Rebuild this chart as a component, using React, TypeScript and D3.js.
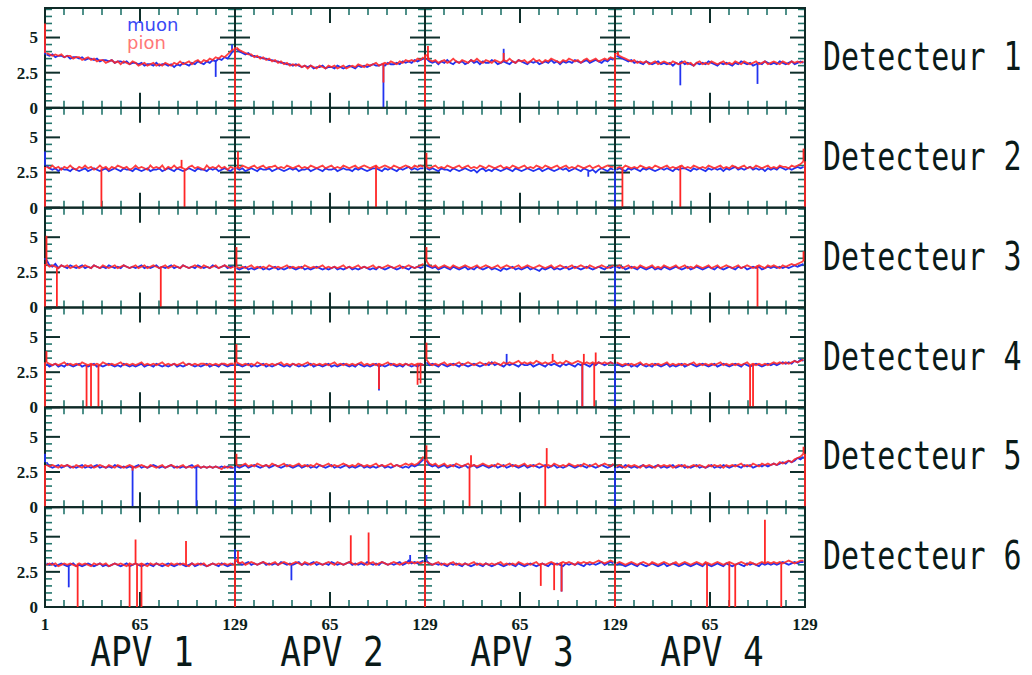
import React from 'react';
import * as d3 from 'd3';

// ---------- labels ----------
const apvLabels = ['APV 1', 'APV 2', 'APV 3', 'APV 4'];
const detectorLabels = ['Detecteur 1', 'Detecteur 2', 'Detecteur 3', 'Detecteur 4', 'Detecteur 5', 'Detecteur 6'];
const yTickValues = [5, 2.5, 0];
const yTickLabels = ['5', '2.5', '0'];
const xTickValues = [65, 129];
const xTickLabels = ['65', '129'];
const legendLabels = ['muon', 'pion'];

// ---------- data: pedestal noise (tenths of ADC) sampled every 2 channels, per APV ----------
const muonD1 = [
  [38,37,38,36,37,37,36,37,35,36,36,35,36,34,35,35,34,35,33,34,34,33,34,32,33,33,32,33,31,32,32,31,
   32,30,31,31,30,32,30,31,31,30,31,29,31,30,32,31,30,32,31,33,32,31,33,32,34,33,35,34,36,35,38,41],
  [42,40,39,38,39,37,37,36,36,35,35,34,34,33,33,32,32,31,31,30,31,30,29,30,29,30,28,29,29,30,28,29,
   29,28,30,29,28,29,30,29,28,30,29,30,29,30,31,30,30,31,30,32,31,31,32,31,33,32,33,32,34,33,34,35],
  [35,33,32,33,31,33,32,34,32,31,33,32,33,31,32,34,32,33,31,33,32,32,34,33,31,32,33,32,31,33,32,34,
   33,32,31,33,32,33,31,32,33,32,34,32,33,31,33,32,33,32,34,33,32,33,34,32,33,34,33,32,34,33,35,34],
  [37,36,35,34,33,34,32,33,32,31,33,32,31,32,33,31,32,31,32,30,32,31,33,31,32,31,30,32,31,32,31,33,
   32,31,30,32,31,32,31,30,32,31,33,32,31,32,30,31,32,31,33,32,31,32,31,33,32,31,32,33,31,32,33,32],
];
const pionD1 = [
  [39,38,37,38,37,38,36,37,37,35,36,36,34,35,36,34,35,33,34,34,32,33,34,32,33,31,33,32,31,33,32,30,
   31,32,30,31,32,30,31,30,32,31,30,32,31,33,31,32,33,31,33,34,32,34,33,35,34,36,35,37,36,38,40,42],
  [43,41,40,39,38,38,36,37,35,36,34,35,33,34,32,33,31,32,30,31,30,31,29,30,28,30,29,28,30,29,28,30,
   29,30,28,29,30,28,29,30,29,31,30,29,31,30,31,32,30,31,32,31,33,32,31,33,32,34,33,34,33,35,34,36],
  [38,34,33,34,32,33,34,32,33,35,33,32,34,33,32,34,33,35,33,32,34,33,32,34,33,32,34,33,35,33,32,34,
   33,34,32,33,35,33,34,32,34,33,35,34,33,32,34,33,35,34,33,34,32,34,35,33,34,35,33,34,35,34,36,35],
  [39,37,36,35,34,33,34,32,33,32,33,31,32,33,31,32,33,32,31,33,32,31,32,33,31,32,30,32,33,31,32,31,
   33,32,31,32,33,31,32,31,33,32,31,33,32,31,32,33,31,32,33,31,32,33,32,31,33,32,31,33,32,33,32,33],
];
const muonD2 = [
  [30,28,27,28,26,28,27,27,26,28,27,26,27,28,26,27,28,27,26,27,28,26,27,28,27,26,28,27,27,26,28,27,
   26,27,28,26,27,27,28,26,27,28,27,26,28,27,26,27,28,27,26,28,27,27,26,28,27,28,26,27,28,27,26,28],
  [28,27,28,26,27,28,27,26,28,27,27,28,26,27,28,27,26,27,28,27,28,26,27,27,28,26,27,28,27,26,28,27,
   27,28,26,27,28,27,27,26,28,27,28,27,26,27,28,28,27,26,28,27,28,27,26,28,27,28,29,27,28,27,28,28],
  [28,27,28,27,26,28,27,27,26,28,27,26,27,28,27,26,27,25,27,28,26,27,26,28,27,26,27,28,27,26,28,27,
   26,27,28,27,26,27,28,26,27,28,27,26,27,28,27,28,26,27,28,27,26,28,27,26,27,25,27,28,27,26,28,27],
  [27,28,27,26,28,27,28,27,26,28,27,28,27,26,27,28,27,28,27,26,28,27,28,28,27,26,28,27,28,27,26,28,
   27,28,27,28,26,28,27,28,29,27,28,27,28,29,27,28,27,28,26,28,27,28,27,29,28,27,28,27,28,29,28,29],
];
const pionD2 = [
  [29,28,30,28,29,27,29,28,30,28,27,29,28,30,28,29,27,28,30,28,29,27,29,28,30,29,28,29,27,28,30,28,
   29,28,27,30,28,29,28,30,27,29,28,30,28,29,28,27,29,30,28,29,28,27,30,28,29,28,30,28,29,27,29,28],
  [29,28,30,29,28,29,30,28,29,30,28,29,29,30,28,29,28,30,29,28,29,30,28,29,28,30,29,28,29,30,28,29,
   30,28,29,28,30,29,28,29,30,28,29,30,29,28,29,30,28,29,30,29,28,30,29,28,29,30,29,28,30,29,30,29],
  [29,28,29,30,28,29,28,30,29,28,29,30,28,29,30,28,29,28,30,29,28,30,29,28,29,30,28,29,28,30,29,28,
   29,30,28,29,28,30,29,28,30,29,28,29,30,28,29,30,28,29,28,30,29,28,29,30,28,29,30,28,29,30,29,29],
  [28,29,28,30,29,28,29,28,30,29,28,29,28,30,29,28,29,30,28,29,28,29,30,28,29,28,30,29,28,29,28,30,
   29,28,29,30,28,29,28,30,29,28,29,30,28,29,28,30,29,28,29,30,28,29,28,30,29,29,28,30,29,30,31,33],
];
const muonD3 = [
  [34,30,29,31,28,30,29,28,30,29,28,29,30,28,29,28,30,29,28,29,28,30,29,28,29,28,30,29,28,29,28,29,
   30,28,29,28,29,30,28,29,28,29,30,28,29,28,30,29,28,29,28,30,29,28,29,28,30,29,28,29,30,28,29,29],
  [28,27,28,29,27,28,27,28,29,27,28,27,28,29,27,28,27,28,29,28,27,28,29,27,28,27,28,29,28,27,28,27,
   28,29,27,28,27,28,29,27,28,27,28,29,28,27,28,27,29,28,27,28,29,28,27,28,29,28,27,29,28,29,28,29],
  [30,29,28,29,27,28,29,28,27,29,28,27,28,29,27,28,27,29,28,27,28,29,27,28,27,26,28,27,28,29,27,28,
   27,28,29,27,28,27,26,28,27,28,29,27,28,27,28,29,27,28,29,28,27,28,29,28,27,28,29,28,27,29,28,29],
  [29,28,29,27,28,29,28,27,29,28,27,28,29,27,28,27,29,28,27,28,29,28,27,28,29,27,28,29,28,27,28,29,
   28,27,29,28,27,28,29,28,27,29,28,29,27,28,29,28,29,27,28,29,28,29,28,29,28,29,28,29,30,29,30,31],
];
const pionD3 = [
  [31,29,30,29,28,30,29,30,28,29,30,28,29,30,29,28,30,29,28,30,29,28,29,30,28,29,30,29,28,29,30,28,
   29,30,28,29,30,29,28,29,30,28,29,30,29,28,30,29,28,29,30,29,28,30,29,28,29,30,28,29,30,29,28,29],
  [29,28,29,28,29,30,28,29,28,29,28,30,29,28,29,28,29,30,28,29,28,29,28,30,29,28,29,28,29,30,28,29,
   28,29,28,29,30,28,29,28,29,30,28,29,28,29,30,28,29,28,29,30,29,28,29,30,28,29,30,29,28,29,30,31],
  [33,30,29,30,28,29,30,29,28,30,29,28,29,30,29,28,29,30,28,29,30,29,28,29,30,28,29,30,29,28,29,30,
   28,29,30,29,28,29,30,29,28,29,30,28,29,30,29,28,29,30,28,29,30,29,28,30,29,28,29,30,29,28,29,30],
  [29,30,28,29,30,28,29,28,30,29,28,29,30,28,29,28,30,29,28,29,30,28,29,30,28,29,28,30,29,28,29,30,
   28,29,30,28,29,30,29,28,29,30,28,29,30,29,28,29,30,29,28,30,29,30,29,28,30,29,30,31,30,31,32,33],
];
const muonD4 = [
  [31,29,30,31,29,30,29,31,30,29,30,31,29,30,29,30,31,29,30,29,30,31,30,29,30,29,31,30,29,30,29,30,
   31,29,30,30,29,31,30,29,30,29,30,31,29,30,29,30,31,30,29,30,29,30,31,29,30,30,29,31,30,29,30,30],
  [31,30,29,30,31,29,30,29,30,31,29,30,29,30,31,30,29,30,29,31,30,29,30,29,30,31,29,30,30,29,30,31,
   29,30,29,30,31,30,29,30,29,31,30,29,30,29,30,31,29,30,29,30,31,30,29,30,29,31,30,29,30,29,31,30],
  [32,30,31,30,29,31,30,29,30,31,30,29,31,30,29,30,31,30,29,30,31,30,32,30,31,30,29,31,30,31,30,29,
   31,30,30,31,29,30,31,30,29,31,30,31,30,29,31,30,31,30,29,31,30,31,30,29,31,30,32,31,30,31,32,31],
  [31,30,29,30,31,29,30,29,31,30,29,30,29,31,30,29,30,31,29,30,29,30,31,29,30,31,30,29,30,31,30,29,
   30,31,29,30,31,30,29,30,31,30,29,31,30,29,30,31,30,29,30,31,30,31,30,31,32,31,32,31,33,32,34,33],
];
const pionD4 = [
  [32,31,30,31,30,31,32,30,31,30,31,30,32,31,30,31,30,31,30,32,31,30,31,30,31,32,30,31,30,31,30,31,
   32,30,31,30,31,30,31,32,30,31,30,31,30,31,32,30,31,30,31,30,31,31,30,31,30,31,30,31,31,30,31,31],
  [32,31,30,31,30,31,30,32,31,30,31,30,31,30,31,32,30,31,30,31,30,31,30,31,32,30,31,30,31,30,31,30,
   31,32,30,31,30,31,30,31,30,31,32,30,31,30,31,30,31,30,31,32,30,31,30,31,30,31,30,31,30,31,31,30],
  [34,31,30,31,30,31,32,30,31,30,31,32,30,31,32,31,30,31,32,31,30,32,31,32,31,30,32,31,32,31,32,33,
   31,32,31,32,31,33,32,31,32,31,32,33,31,32,31,33,32,31,32,33,32,31,32,31,32,31,32,31,32,31,32,31],
  [32,31,30,31,30,31,30,31,32,30,31,30,31,30,31,30,31,32,30,31,30,31,30,31,30,31,32,30,31,30,31,30,
   31,30,31,32,30,31,30,31,30,31,30,31,32,30,31,30,31,30,31,30,31,32,31,32,31,32,31,32,33,32,33,34],
];
const muonD5 = [
  [32,29,28,29,30,28,29,30,28,29,28,29,30,28,29,28,29,30,28,29,28,29,28,30,29,28,29,28,29,28,29,30,
   28,29,28,29,30,29,28,29,28,29,30,28,29,28,29,28,29,30,28,29,28,29,28,29,28,29,28,29,28,29,28,28],
  [29,28,29,30,28,29,30,29,28,29,30,28,29,30,29,28,29,30,29,28,29,30,28,29,30,28,29,28,30,29,28,29,
   30,28,29,28,29,30,28,29,28,29,30,28,29,28,29,28,29,30,28,29,28,29,30,29,28,29,28,30,29,30,32,34],
  [33,30,29,30,28,29,30,28,29,30,29,28,29,30,28,29,30,28,29,30,29,28,29,30,28,29,30,28,29,30,29,28,
   29,30,28,29,30,29,28,29,30,28,29,30,28,29,28,29,30,29,28,29,30,29,28,30,29,28,29,30,29,28,29,30],
  [28,29,28,30,29,28,29,28,29,30,28,29,28,29,30,28,29,28,29,30,28,29,30,28,29,28,29,30,28,29,28,29,
   30,28,29,28,30,29,28,29,30,29,28,30,29,30,28,29,30,29,30,29,30,31,30,31,32,31,33,32,33,35,34,36],
];
const pionD5 = [
  [30,29,30,29,28,30,29,30,29,28,30,29,28,30,29,30,28,29,30,29,28,30,29,28,30,29,28,29,30,29,28,29,
   30,29,28,30,29,28,29,30,28,29,30,29,28,29,30,28,29,28,29,30,28,29,28,29,28,29,28,27,29,28,29,28],
  [30,29,30,31,29,30,29,31,30,29,30,29,31,30,29,30,31,29,30,29,30,31,29,30,29,30,29,31,30,29,30,31,
   29,30,29,30,31,30,29,30,29,31,30,29,30,29,30,31,29,30,29,30,31,29,30,29,30,31,30,31,30,31,33,36],
  [34,31,30,31,29,30,31,29,30,29,31,30,29,30,31,29,30,29,30,31,30,29,30,29,31,30,29,30,31,29,30,29,
   30,31,29,30,29,30,31,30,29,30,29,31,30,29,30,29,31,30,29,30,29,31,30,29,30,31,29,30,31,30,29,31],
  [29,30,29,28,30,29,30,29,28,30,29,30,29,28,30,29,30,29,30,28,29,30,29,30,28,29,30,29,30,29,28,30,
   29,30,29,30,28,30,29,30,29,30,31,29,30,29,31,30,29,31,30,31,30,31,30,32,31,32,33,32,34,35,36,38],
];
const muonD6 = [
  [31,30,31,29,30,31,30,29,30,31,29,30,29,30,31,30,29,30,31,29,30,29,30,31,30,29,30,31,29,30,31,30,
   29,30,31,30,29,31,30,29,30,31,30,29,30,31,30,29,30,31,29,30,31,30,29,30,31,30,29,31,30,29,30,31],
  [33,31,30,31,32,30,31,30,31,32,30,31,30,31,30,32,31,30,31,30,31,32,30,31,30,31,32,30,31,30,31,30,
   32,31,30,31,30,31,32,30,31,30,31,30,32,31,30,31,30,32,31,30,31,30,31,32,30,31,33,31,32,31,32,33],
  [33,31,30,31,30,31,30,29,31,30,31,30,29,31,30,29,30,31,30,29,31,30,29,30,31,30,29,30,31,30,29,31,
   30,29,30,31,30,29,30,31,30,29,31,30,31,30,29,31,30,31,30,31,30,29,31,30,31,30,31,32,30,31,32,31],
  [30,31,30,29,30,31,30,29,31,30,29,30,31,30,29,30,31,29,30,31,30,29,30,31,30,29,30,31,30,29,31,30,
   29,30,31,30,29,31,30,29,30,31,30,29,31,30,31,30,29,31,30,31,30,31,30,31,32,31,30,31,32,31,32,32],
];
const pionD6 = [
  [30,31,30,31,29,30,31,30,31,30,29,31,30,31,30,29,31,30,31,30,31,29,30,31,30,31,30,29,31,30,31,30,
   31,30,29,31,30,31,30,31,30,29,31,30,31,30,31,30,29,31,30,31,30,31,29,30,31,30,31,30,31,30,31,30],
  [34,31,32,30,31,32,31,30,31,32,31,30,31,32,30,31,32,31,30,31,32,31,30,32,31,30,31,32,31,30,31,32,
   31,30,32,31,30,31,32,31,30,31,32,31,30,31,32,30,31,32,31,30,31,32,31,30,31,32,31,32,31,32,31,32],
  [32,31,30,31,32,30,31,30,31,32,30,31,30,31,30,31,32,30,31,30,31,30,31,30,31,32,30,31,30,31,30,32,
   31,30,31,30,31,32,30,31,30,31,32,31,30,31,32,31,32,31,30,32,31,32,31,32,31,32,33,32,31,32,33,32],
  [31,32,31,30,31,32,31,30,31,32,31,30,32,31,30,31,32,31,30,31,32,30,31,32,31,30,31,32,31,30,32,31,
   30,31,32,31,30,31,32,31,30,31,32,31,30,32,31,30,31,32,31,32,31,32,31,32,31,32,33,32,31,32,33,33],
];

const muonRows = [muonD1, muonD2, muonD3, muonD4, muonD5, muonD6];
const pionRows = [pionD1, pionD2, pionD3, pionD4, pionD5, pionD6];

// isolated channels: [detector, apv, channel, value]
const muonSpikes = [
  [1, 1, 1, 4.5], [1, 1, 116, 2.2], [1, 1, 127, 4.5], [1, 2, 101, 0], [1, 3, 54, 4.2], [1, 4, 45, 1.6], [1, 4, 97, 1.7],
  [2, 1, 1, 4.0], [2, 3, 111, 2.2], [2, 4, 1, 0],
  [3, 1, 1, 3.5], [3, 4, 1, 0],
  [4, 2, 98, 1.2], [4, 3, 56, 3.8], [4, 3, 107, 0], [4, 4, 1, 0],
  [5, 1, 1, 3.8], [5, 1, 60, 0], [5, 1, 103, 0], [5, 2, 1, 0], [5, 4, 1, 0],
  [6, 1, 17, 1.4], [6, 2, 1, 4.1], [6, 2, 39, 1.9], [6, 2, 119, 3.7], [6, 3, 2, 3.7], [6, 3, 93, 1.1],
];
const pionSpikes = [
  [1, 1, 1, 6.0], [1, 2, 1, 0], [1, 2, 3, 4.2], [1, 2, 101, 1.8], [1, 3, 1, 0], [1, 3, 3, 4.4], [1, 3, 54, 3.9], [1, 4, 1, 0], [1, 4, 3, 4.0],
  [2, 1, 1, 0], [2, 1, 39, 0], [2, 1, 93, 3.4], [2, 1, 95, 0], [2, 2, 1, 0], [2, 2, 3, 4.0], [2, 2, 96, 0], [2, 3, 2, 3.9], [2, 4, 6, 0], [2, 4, 45, 0], [2, 4, 128, 4.2], [2, 4, 129, 0],
  [3, 1, 1, 0], [3, 1, 2, 5.1], [3, 1, 9, 0], [3, 1, 79, 0], [3, 2, 1, 0], [3, 2, 2, 4.3], [3, 3, 2, 4.3], [3, 4, 97, 0], [3, 4, 128, 4.0],
  [4, 1, 1, 0], [4, 1, 2, 4.0], [4, 1, 29, 0], [4, 1, 32, 0], [4, 1, 37, 0], [4, 2, 1, 0], [4, 2, 2, 4.5], [4, 2, 98, 1.3], [4, 2, 124, 1.6], [4, 2, 126, 1.7],
  [4, 3, 2, 4.6], [4, 3, 87, 3.8], [4, 3, 107, 0], [4, 3, 108, 3.8], [4, 3, 115, 0], [4, 3, 116, 3.9], [4, 4, 92, 0], [4, 4, 94, 0],
  [5, 1, 1, 0], [5, 1, 60, 2.6], [5, 2, 2, 3.8], [5, 3, 1, 0], [5, 3, 2, 4.4], [5, 3, 31, 0], [5, 3, 32, 3.7], [5, 3, 82, 0], [5, 3, 83, 4.2], [5, 4, 128, 4.3], [5, 4, 129, 0],
  [6, 1, 23, 0], [6, 1, 58, 0], [6, 1, 62, 4.8], [6, 1, 63, 0], [6, 1, 66, 0], [6, 1, 96, 4.7], [6, 2, 1, 0], [6, 2, 3, 4.0], [6, 2, 79, 5.1], [6, 2, 91, 5.3],
  [6, 3, 1, 0], [6, 3, 79, 1.5], [6, 3, 88, 1.2], [6, 3, 93, 1.1], [6, 4, 1, 0], [6, 4, 63, 0], [6, 4, 78, 0], [6, 4, 82, 0], [6, 4, 102, 6.2], [6, 4, 113, 0],
];

const MUON = '#2233f0';
const PION = '#ff2626';
const TICK = '#23756c';
const TICK_MAJOR = '#0e2f2b';
const FRAME = '#0f2a27';

export default function App() {
  const W = 1032, H = 675;
  const left = 45, right = 805, top = 8, bottom = 607;
  const nCols = 4, nRows = 6;
  const colW = (right - left) / nCols;
  const rowH = (bottom - top) / nRows;

  const x = d3.scaleLinear().domain([1, 129]).range([0, colW]);
  const y = d3.scaleLinear().domain([0, 7.1]).range([rowH, 0]);
  const line = d3.line<[number, number]>().x((d) => x(d[0])).y((d) => y(d[1]));

  const toPoints = (arr: number[]): [number, number][] =>
    arr.map((v, k) => [2 + (k * 126) / (arr.length - 1), v / 10]);
  const baseAt = (arr: number[], ch: number) => {
    const k = Math.max(0, Math.min(arr.length - 1, Math.round(((ch - 2) * (arr.length - 1)) / 126)));
    return arr[k] / 10;
  };

  const xMinor = d3.range(0, 11).map((i) => 1 + i * 12.8);
  const yMinor = d3.range(0, 7.01, 0.5);

  const panels: React.ReactNode[] = [];
  for (let r = 0; r < nRows; r++) {
    for (let c = 0; c < nCols; c++) {
      const tx = left + c * colW;
      const ty = top + r * rowH;
      const mu = muonRows[r][c];
      const pi = pionRows[r][c];
      const muS = muonSpikes.filter((s) => s[0] === r + 1 && s[1] === c + 1);
      const piS = pionSpikes.filter((s) => s[0] === r + 1 && s[1] === c + 1);
      panels.push(
        <g key={`p${r}-${c}`} transform={`translate(${tx},${ty})`}>
          {xMinor.slice(1, 10).map((v, i) => {
            const major = i === 4;
            const len = major ? 15 : 7;
            return (
              <g key={`xt${i}`} stroke={major ? TICK_MAJOR : TICK} strokeWidth={major ? 2 : 1.6}>
                <line x1={x(v)} x2={x(v)} y1={0} y2={len} />
                <line x1={x(v)} x2={x(v)} y1={rowH} y2={rowH - len} />
              </g>
            );
          })}
          {yMinor.map((v, i) => {
            const major = Math.abs(v % 2.5) < 1e-6;
            const len = major ? 15 : 7;
            return (
              <g key={`yt${i}`} stroke={major ? TICK_MAJOR : TICK} strokeWidth={major ? 2 : 1.6}>
                <line x1={0} x2={len} y1={y(v)} y2={y(v)} />
                <line x1={colW} x2={colW - len} y1={y(v)} y2={y(v)} />
              </g>
            );
          })}
          <rect x={0} y={0} width={colW} height={rowH} fill="none" stroke={FRAME} strokeWidth={2} />
          <path d={line(toPoints(mu)) || ''} fill="none" stroke={MUON} strokeWidth={1.8} />
          {muS.map((s, i) => (
            <line key={`ms${i}`} x1={x(s[2])} x2={x(s[2])} y1={y(baseAt(mu, s[2]))} y2={y(s[3])}
              stroke={MUON} strokeWidth={1.8} />
          ))}
          <path d={line(toPoints(pi)) || ''} fill="none" stroke={PION} strokeWidth={1.8} strokeOpacity={0.88} />
          {piS.map((s, i) => (
            <line key={`ps${i}`} x1={x(s[2])} x2={x(s[2])} y1={y(baseAt(pi, s[2]))} y2={y(s[3])}
              stroke={PION} strokeWidth={1.8} />
          ))}
        </g>
      );
    }
  }

  return (
    <svg width={W} height={H} style={{ position: 'absolute', left: 0, top: 0, background: '#fff' }}>
      <rect x={0} y={0} width={W} height={H} fill="#fff" />
      {panels}
      {/* y labels */}
      {d3.range(nRows).map((r) =>
        yTickValues.map((v, i) => (
          <text key={`yl${r}-${i}`} x={38} y={top + r * rowH + y(v)} dy="0.35em" textAnchor="end"
            fontFamily="'Liberation Serif', 'DejaVu Serif', serif" fontWeight="bold" fontSize={17} fill="#0d1f1d">
            {yTickLabels[i]}
          </text>
        ))
      )}
      {/* x labels */}
      <text x={left + x(1)} y={630} textAnchor="middle" fontFamily="'Liberation Serif', serif" fontWeight="bold" fontSize={17} fill="#0d1f1d">1</text>
      {d3.range(nCols).map((c) =>
        xTickValues.map((v, i) => (
          <text key={`xl${c}-${i}`} x={left + c * colW + x(v)} y={630} textAnchor="middle"
            fontFamily="'Liberation Serif', serif" fontWeight="bold" fontSize={17} fill="#0d1f1d">
            {xTickLabels[i]}
          </text>
        ))
      )}
      {/* APV labels */}
      {apvLabels.map((t, c) => (
        <text key={`apv${c}`} transform={`translate(${left + c * colW + colW / 2 + 2},666) scale(0.86,1)`}
          textAnchor="middle" fontFamily="'DejaVu Sans Mono', monospace" fontSize={40} fill="#0a1a18">
          {t}
        </text>
      ))}
      {/* Detector labels */}
      {detectorLabels.map((t, r) => (
        <text key={`det${r}`} transform={`translate(${823},${top + r * rowH + 62}) scale(1,1.33)`}
          fontFamily="'DejaVu Sans Mono', monospace" fontSize={30} fill="#0a1a18">
          {t}
        </text>
      ))}
      {/* legend */}
      <text x={127} y={31} fontFamily="'DejaVu Sans', sans-serif" fontSize={18} fill="#3a4af5">{legendLabels[0]}</text>
      <text x={127} y={49} fontFamily="'DejaVu Sans', sans-serif" fontSize={18} fill="#ff7777">{legendLabels[1]}</text>
    </svg>
  );
}
